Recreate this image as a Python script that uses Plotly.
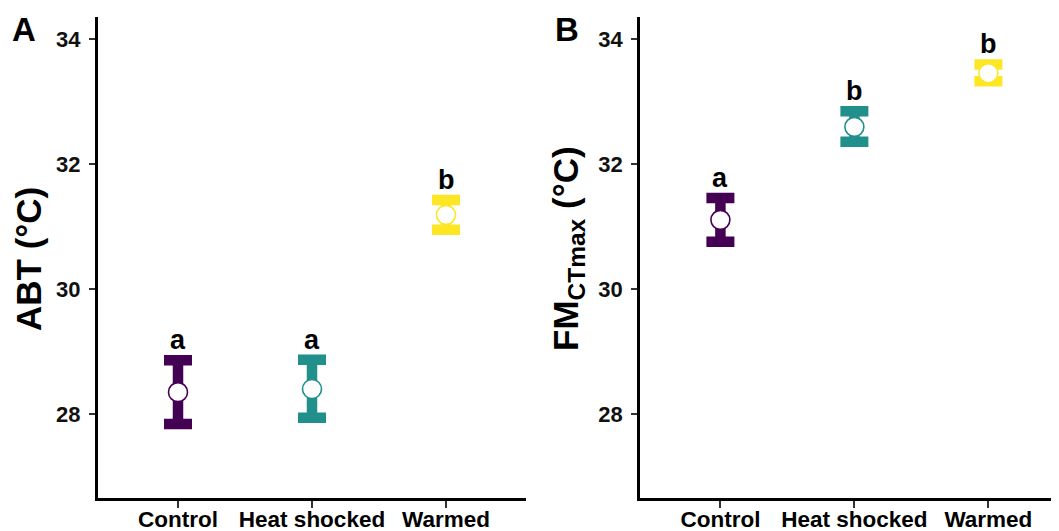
import plotly.graph_objects as go

groups = ["Control", "Heat shocked", "Warmed"]
colors = ["#440154", "#21908C", "#FDE725"]

abt_mean = [28.35, 28.40, 31.19]
abt_upper = [28.86, 28.87, 31.43]
abt_lower = [27.84, 27.94, 30.95]
abt_letters = ["a", "a", "b"]

fm_mean = [31.11, 32.60, 33.46]
fm_upper = [31.46, 32.85, 33.60]
fm_lower = [30.76, 32.36, 33.33]
fm_letters = ["a", "b", "b"]

y_ticks = [28, 30, 32, 34]

OFF = 8  # page body margin
W, H = 1059 - OFF, 531 - OFF
FONT = "Liberation Sans"


def px(x):
    return (x - OFF) / W


def py(y):
    return 1 - (y - OFF) / H


fig = go.Figure()


def add_panel(means, uppers, lowers, letters, xa, ya):
    for g, c, m, u, l in zip(groups, colors, means, uppers, lowers):
        fig.add_trace(go.Scatter(
            x=[g], y=[m], mode="markers", xaxis=xa, yaxis=ya,
            marker=dict(size=19, color="white", line=dict(color=c, width=1.6)),
            error_y=dict(type="data", symmetric=False, array=[u - m],
                         arrayminus=[m - l], color=c, thickness=10.5, width=14),
            showlegend=False, hoverinfo="skip"))
    for g, u, t in zip(groups, uppers, letters):
        fig.add_annotation(x=g, y=u, xref=xa, yref=ya, text=t, showarrow=False,
                           xanchor="center", yanchor="bottom", yshift=3,
                           font=dict(family=FONT, size=27, color="black", weight="bold"))


add_panel(abt_mean, abt_upper, abt_lower, abt_letters, "x", "y")
add_panel(fm_mean, fm_upper, fm_lower, fm_letters, "x2", "y2")

ydom = [py(498), py(17)]
yrange = [26.654, 34.36]
axis_common = dict(showgrid=False, zeroline=False, showline=True, linecolor="black",
                   linewidth=2.5, ticks="outside", tickcolor="#333333", tickwidth=2,
                   automargin=False)
xcommon = dict(axis_common, ticklen=7, ticklabelstandoff=-8,
               tickfont=dict(family=FONT, size=22.5, color="black", weight="bold"),
               type="category", categoryorder="array", categoryarray=groups)
ycommon = dict(axis_common, ticklen=6, tickvals=y_ticks, range=yrange, domain=ydom,
               ticklabelstandoff=4,
               tickfont=dict(family=FONT, size=22, color="#111111", weight="bold"))

fig.update_layout(
    width=W, height=H,
    margin=dict(l=0, r=0, t=0, b=0),
    paper_bgcolor="white", plot_bgcolor="white",
    xaxis=dict(xcommon, domain=[px(97.6), px(526.4)], range=[-0.6, 2.6], anchor="y"),
    yaxis=dict(ycommon, anchor="x"),
    xaxis2=dict(xcommon, domain=[px(640), 1.0], range=[-0.6, 2.527], anchor="y2"),
    yaxis2=dict(ycommon, anchor="x2"),
)

# axis titles
fig.add_annotation(x=px(29), y=py(259), xref="paper", yref="paper",
                   xanchor="center", yanchor="middle",
                   text="ABT (°C)", textangle=-90, showarrow=False,
                   font=dict(family=FONT, size=35, color="black", weight="bold"))
fig.add_annotation(x=px(568), y=py(249), xref="paper", yref="paper",
                   xanchor="center", yanchor="middle",
                   text="FM<sub>CTmax</sub> (°C)", textangle=-90, showarrow=False,
                   font=dict(family=FONT, size=35, color="black", weight="bold"))

# panel labels
fig.add_annotation(x=px(24), y=py(30), xref="paper", yref="paper", text="A",
                   xanchor="center", yanchor="middle", showarrow=False,
                   font=dict(family=FONT, size=33, color="black", weight="bold"))
fig.add_annotation(x=px(567), y=py(30), xref="paper", yref="paper", text="B",
                   xanchor="center", yanchor="middle", showarrow=False,
                   font=dict(family=FONT, size=33, color="black", weight="bold"))

fig.write_html("out.html")
